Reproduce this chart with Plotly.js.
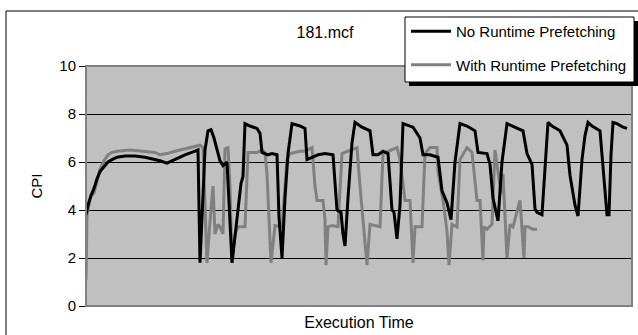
<!DOCTYPE html>
<html>
<head>
<meta charset="utf-8">
<script src="https://cdn.plot.ly/plotly-3.0.1.min.js"></script>
<style>
html,body{margin:0;padding:0;background:#fff;}
#chart{width:638px;height:335px;}
</style>
</head>
<body>
<div id="chart"></div>
<script>
// Execution time (arbitrary sample units) and CPI values
var chartTitle = "181.mcf";
var seriesNames = ["No Runtime Prefetching", "With Runtime Prefetching"];

var timeNo = [0,2,5,8,11,14,18,22,26,31,39,49,59,65,74,81,89,99,109,112,114,116,119,122,125,128,132,134,137,141,146,150,153,155,157,159,164,171,174,176,182,186,191,193,196,199,202,206,214,219,221,226,232,239,247,251,255,257,259,262,266,269,276,284,287,292,297,302,306,308,311,314,317,327,334,337,344,352,356,361,365,369,374,381,389,392,401,404,407,412,416,421,432,437,441,446,449,451,456,461,462,466,474,481,484,489,492,496,499,502,506,514,521,523,525,527,531,537,541,546];
var cpiNo  = [3.8,4.2,4.6,4.9,5.3,5.6,5.8,6.0,6.1,6.2,6.25,6.25,6.2,6.15,6.05,5.95,6.1,6.3,6.45,6.5,1.8,3.5,6.5,7.3,7.35,7.0,6.4,6.05,5.85,6.0,1.8,3.3,4.2,5.1,5.4,7.6,7.5,7.4,7.2,6.4,6.3,6.35,6.3,3.7,2.0,4.5,6.35,7.6,7.5,7.4,6.1,6.2,6.3,6.35,6.3,4.0,3.9,3.0,2.5,4.5,6.8,7.65,7.45,7.3,6.3,6.3,6.45,6.35,4.0,3.9,2.8,4.2,7.6,7.45,7.0,6.3,6.3,6.2,4.8,4.3,3.6,6.0,7.6,7.5,7.3,6.4,6.35,5.9,4.5,3.55,6.0,7.6,7.4,7.3,6.35,5.9,4.05,3.9,3.8,6.8,7.65,7.5,7.3,6.7,5.45,4.2,3.75,6.1,7.1,7.65,7.5,7.3,3.8,3.8,6.3,7.65,7.6,7.45,7.4];

var timeWith = [0,1,3,5,8,11,14,18,22,26,31,44,59,69,74,81,89,99,109,114,117,121,124,127,129,132,134,137,139,142,144,146,149,152,159,162,171,176,179,181,185,189,196,201,204,214,219,226,229,231,237,239,240,242,246,252,256,264,271,274,277,281,284,294,297,306,311,314,317,319,324,327,329,336,339,344,351,352,357,361,363,366,371,374,381,386,391,394,397,398,401,406,409,412,415,417,421,424,427,434,438,439,442,447,451,452,454,456,458,461,463,465,469,472,474,477,481,483,487,492,494];
var cpiWith = [1.1,3.8,4.2,4.6,4.7,5.2,5.7,6.05,6.3,6.4,6.45,6.5,6.45,6.4,6.3,6.35,6.45,6.55,6.65,6.7,6.6,1.8,3.5,5.0,3.0,3.4,3.3,3.0,6.55,6.6,5.0,1.8,3.0,3.3,3.3,6.4,6.4,6.5,6.4,5.5,1.8,3.35,3.3,6.1,6.35,6.45,6.45,6.6,5.0,4.4,4.4,3.6,1.7,3.3,3.35,3.3,6.35,6.5,6.6,5.0,3.7,1.7,3.4,3.3,6.35,6.5,6.6,6.1,4.9,4.4,4.4,1.8,3.3,3.3,6.35,6.6,6.6,5.6,4.4,3.1,1.7,3.4,3.3,6.1,6.6,6.4,4.4,4.4,1.9,3.3,3.2,3.4,6.5,5.5,4.7,5.5,2.0,3.4,3.3,4.4,2.0,3.3,3.3,3.2,3.2];

var yTicks = [0,2,4,6,8,10];

var FONT = "Liberation Sans, Arial, sans-serif";

// gray drawn first, black on top; legend order set with legendrank
var traces = [
  {x: timeWith, y: cpiWith, name: seriesNames[1], type: "scatter", mode: "lines",
   line: {color: "#808080", width: 3}, legendgroup: "b", legendrank: 2},
  {x: timeNo, y: cpiNo, name: seriesNames[0], type: "scatter", mode: "lines",
   line: {color: "#000000", width: 3}, legendgroup: "a", legendrank: 1}
];

var L = 86, R = 6, T = 66, B = 29, W = 638, H = 335;
var pw = W - L - R, ph = H - T - B;
function px(x){ return (x - L) / pw; }
function py(y){ return (H - B - y) / ph; }

var layout = {
  width: W, height: H,
  margin: {l: L, r: R, t: T, b: B},
  paper_bgcolor: "#ffffff",
  plot_bgcolor: "#c0c0c0",
  font: {family: FONT, size: 15, color: "#000"},
  title: {text: chartTitle, font: {family: FONT, size: 16, color: "#000"},
          x: px(325), xanchor: "center", y: 1 - 32/H, yanchor: "middle", xref: "paper", yref: "container"},
  showlegend: true,
  legend: {x: px(406), y: py(15), xanchor: "left", yanchor: "top",
           bgcolor: "rgba(0,0,0,0)", borderwidth: 0, itemwidth: 40,
           traceorder: "grouped", tracegroupgap: 11,
           font: {family: FONT, size: 15, color: "#000"}},
  xaxis: {range: [0, 546], showticklabels: false, ticks: "", showgrid: false,
          zeroline: false, showline: false, fixedrange: true,
          title: {text: "Execution Time", font: {family: FONT, size: 16, color: "#000"}, standoff: 10}},
  yaxis: {range: [0, 10], tickvals: yTicks, ticktext: yTicks.map(String),
          showgrid: true, gridcolor: "#000000", gridwidth: 1,
          zeroline: false, showline: true, linecolor: "#000000", linewidth: 1,
          ticks: "outside", ticklen: 6, tickcolor: "#000", tickwidth: 1,
          tickfont: {family: FONT, size: 15, color: "#000"}, fixedrange: true,
          title: {text: "CPI", font: {family: FONT, size: 15, color: "#000"}, standoff: 13}},
  shapes: [
    {type: "rect", xref: "paper", yref: "paper", x0: px(6), x1: px(645), y0: py(345), y1: py(11),
     line: {color: "#000", width: 1}, fillcolor: "rgba(0,0,0,0)", layer: "below"},
    {type: "rect", xref: "paper", yref: "paper", x0: 0, x1: 1, y0: 0, y1: 1,
     line: {color: "#808080", width: 2}, fillcolor: "rgba(0,0,0,0)", layer: "above"},
    {type: "rect", xref: "paper", yref: "paper", x0: px(409), x1: px(640), y0: py(86), y1: py(21),
     line: {width: 0}, fillcolor: "#000", layer: "above"},
    {type: "rect", xref: "paper", yref: "paper", x0: px(405), x1: px(634), y0: py(82), y1: py(17),
     line: {color: "#000", width: 1}, fillcolor: "#fff", layer: "above"}
  ]
};

Plotly.newPlot("chart", traces, layout, {displayModeBar: false, staticPlot: true});
</script>
</body>
</html>
